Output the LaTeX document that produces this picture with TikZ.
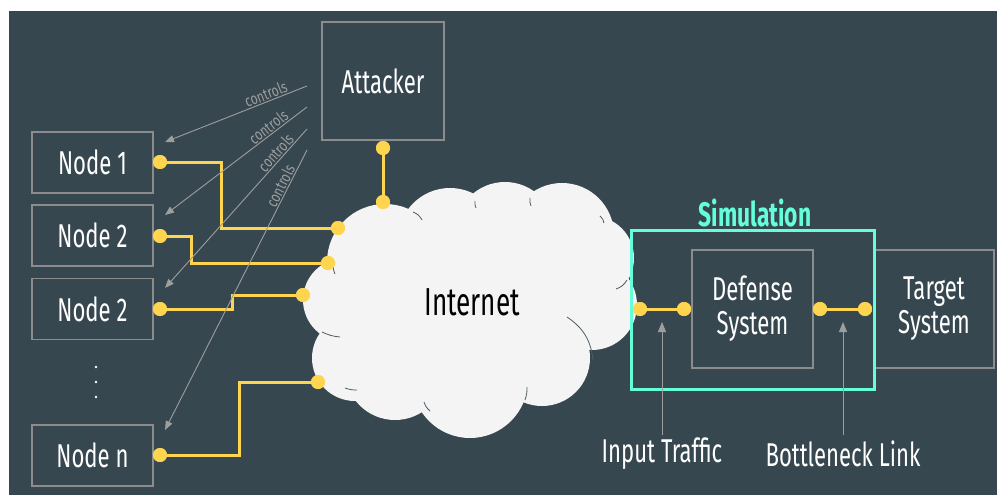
\documentclass[tikz,border=0pt]{standalone}
\usepackage{fontspec}
\setmainfont{Fira Sans}
\newfontfamily\condfam{Fira Sans}[FakeStretch=0.67]
\newfontfamily\ctrlfam{Fira Sans}[FakeStretch=0.75]
\newcommand\boxfont{\condfam\fontsize{33}{34}\selectfont}
\newcommand\netfont{\condfam\fontsize{39}{40}\selectfont}
\newcommand\simfont{\condfam\bfseries\fontsize{34}{36}\selectfont}
\newcommand\ctrlfont{\ctrlfam\fontsize{16}{17}\selectfont}
\usetikzlibrary{arrows.meta}
\definecolor{bg}{HTML}{37474F}
\definecolor{boxgray}{HTML}{8C8C8C}
\definecolor{ylw}{HTML}{FFD54F}
\definecolor{simteal}{HTML}{64FFDA}
\definecolor{cloudfill}{HTML}{F4F4F4}
\definecolor{seam}{HTML}{4E5E66}
\definecolor{arrgray}{HTML}{9E9E9E}
\begin{document}
\begin{tikzpicture}[x=1pt,y=-1pt,
  box/.style={draw=boxgray,line width=1.3pt,text=white,inner sep=0pt,font=\boxfont,align=center},
  dot/.style={circle,fill=ylw,minimum size=14pt,inner sep=0pt},
  wire/.style={draw=ylw,line width=3pt},
  ctrl/.style={draw=arrgray,line width=0.9pt,{Triangle[length=9pt,width=7pt]}-},
  ctrllab/.style={text=arrgray,font=\ctrlfont,sloped,above,inner sep=1pt},
  uparr/.style={draw=arrgray,line width=1pt,-{Triangle[length=10pt,width=8pt]}},
  lab/.style={text=white,font=\boxfont,inner sep=0pt},
  seamline/.style={draw=seam,line width=0.8pt}
]
\useasboundingbox (0,0) rectangle (997,495);
\fill[white] (0,0) rectangle (997,495);
\fill[bg] (9,11) rectangle (997,495);

% cloud
\fill[cloudfill]
  (385,262) circle (58pt)
  (450,240) circle (52pt)
  (505,232) circle (50pt)
  (562,235) circle (52pt)
  (592,258) circle (42pt)
  (592,305) circle (45pt)
  (542,358) circle (48pt)
  (470,380) circle (58pt)
  (395,370) circle (50pt)
  (355,358) circle (43pt)
  (345,300) circle (42pt)
  (470,300) circle (95pt);
\draw[seamline] (413,212) to[bend left=20] (422,220);
\draw[seamline] (475,201) to[bend right=15] (476,208);
\draw[seamline] (530,198) to[bend right=15] (531,206);
\draw[seamline] (600,216) to[bend left=20] (604,223);
\draw[seamline] (627,280) to[bend left=20] (616,289);
\draw[seamline] (567,317) to[bend left=25] (593,360);
\draw[seamline] (527,387) to[bend left=10] (525,400);
\draw[seamline] (424,402) to[bend right=15] (430,411);
\draw[seamline] (345,388) to[bend right=10] (357,390);
\draw[seamline] (322,332) to[bend right=10] (340,337);
\draw[seamline] (333,266) to[bend right=10] (335,274);
\node[text=black,font=\netfont,inner sep=0pt] (internet) at (472,302) {Internet};

% boxes
\node[box,minimum width=122pt,minimum height=118pt] (attacker) at (383,81) {Attacker};
\node[box,minimum width=121pt,minimum height=61pt] (n1) at (92.5,162.5) {Node 1};
\node[box,minimum width=121pt,minimum height=61pt] (n2) at (92.5,235.5) {Node 2};
\node[box,minimum width=121pt,minimum height=61pt] (n3) at (92.5,309) {Node 2};
\node[box,minimum width=121pt,minimum height=61pt] (nn) at (92.5,455.5) {Node n};
\fill[white] (96,367) circle (1.4pt) (96,382) circle (1.4pt) (96,397) circle (1.4pt);
\node[box,minimum width=121pt,minimum height=118pt] (defense) at (752.5,309) {Defense\\System};
\node[box,minimum width=120pt,minimum height=118pt] (target) at (934,309) {Target\\System};
\node[draw=simteal,line width=3pt,minimum width=243pt,minimum height=159pt,inner sep=0pt] (sim) at (752.5,309.5) {};
\node[text=simteal,font=\simfont,inner sep=0pt] (simlab) at (755,213) {Simulation};

% yellow dots
\node[dot] (d1) at (160,162) {};
\node[dot] (c1) at (338,228) {};
\node[dot] (d2) at (160,236) {};
\node[dot] (c2) at (328,263) {};
\node[dot] (d3) at (160,309) {};
\node[dot] (c3) at (303,295) {};
\node[dot] (dn) at (160,455) {};
\node[dot] (cn) at (318,382) {};
\node[dot] (da) at (383,148) {};
\node[dot] (ca) at (383,202) {};
\node[dot] (in1) at (640,309) {};
\node[dot] (in2) at (684,309) {};
\node[dot] (bn1) at (820,309) {};
\node[dot] (bn2) at (865,309) {};
\draw[wire] (d1.center) -| (221,228) -- (c1.center);
\draw[wire] (d2.center) -| (191,263) -- (c2.center);
\draw[wire] (d3.center) -| (232,295) -- (c3.center);
\draw[wire] (dn.center) -| (239,382) -- (cn.center);
\draw[wire] (da.center) -- (ca.center);
\draw[wire] (in1.center) -- (in2.center);
\draw[wire] (bn1.center) -- (bn2.center);
\foreach \d in {d1,c1,d2,c2,d3,c3,dn,cn,da,ca,in1,in2,bn1,bn2}
  \fill[ylw] (\d) circle (7pt);

% controls arrows
\coordinate (s1) at (307,86);
\coordinate (s2) at (307,107);
\coordinate (s3) at (307,129);
\coordinate (s4) at (307,150);
\coordinate (e1) at (165,142);
\coordinate (e2) at (165,215);
\coordinate (e3) at (165,288);
\coordinate (e4) at (165,430);
\draw[ctrl] (e1) -- (s1) node[ctrllab,pos=0.73] {controls};
\draw[ctrl] (e2) -- (s2) node[ctrllab,pos=0.76] {controls};
\draw[ctrl] (e3) -- (s3) node[ctrllab,pos=0.82] {controls};
\draw[ctrl] (e4) -- (s4) node[ctrllab,pos=0.86] {controls};

% bottom labels
\node[lab] (input) at (662,454) {Input Traffic};
\node[lab] (bottle) at (843,454) {Bottleneck Link};
\coordinate (it) at (662,322);
\coordinate (bt) at (843,322);
\draw[uparr] (662,435) -- (it);
\draw[uparr] (843,435) -- (bt);
\end{tikzpicture}
\end{document}
